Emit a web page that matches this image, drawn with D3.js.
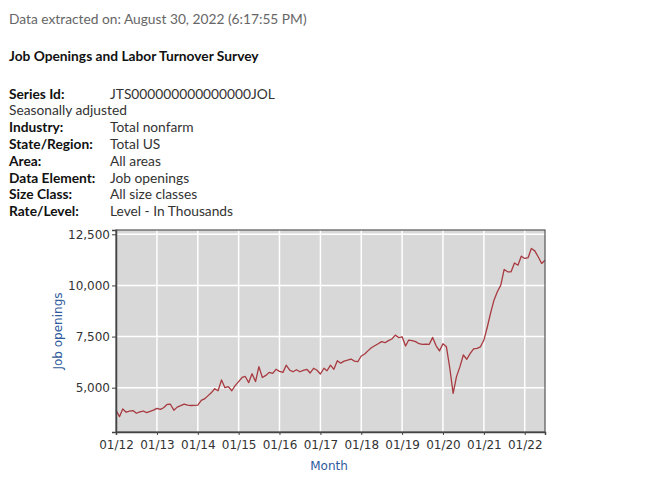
<!DOCTYPE html>
<html><head><meta charset="utf-8">
<script src="https://cdn.jsdelivr.net/npm/d3@7"></script>
<style>
html,body{margin:0;padding:0;background:#fff;}
svg{display:block;}
</style></head><body>
<svg id="c" width="670" height="493"></svg>
<script>
const extracted = "Data extracted on: August 30, 2022 (6:17:55 PM)";
const title = "Job Openings and Labor Turnover Survey";
const metaLabels = ["Series Id:", null, "Industry:", "State/Region:", "Area:", "Data Element:", "Size Class:", "Rate/Level:"];
const metaValues = ["JTS000000000000000JOL", "Seasonally adjusted", "Total nonfarm", "Total US", "All areas", "Job openings", "All size classes", "Level - In Thousands"];
const startMonth = "2012-01";
const values = [
  3911, 3584, 3960, 3800, 3850, 3880, 3750, 3820, 3860, 3780, 3840, 3900,
  3990, 3940, 4020, 4180, 4190, 3900, 4050, 4120, 4200, 4150, 4130, 4140,
  4150, 4380, 4450, 4600, 4750, 4950, 4850, 5380, 5000, 5050, 4850, 5100,
  5300, 5500, 5550, 5250, 5680, 5300, 6030, 5500, 5600, 5750, 5700, 5900,
  5800, 5750, 6100, 5860, 5780, 5880, 5780, 5850, 5900, 5720, 5950, 5850,
  5670, 5950, 5830, 6100, 5900, 6320, 6200, 6300, 6350, 6400, 6300, 6270,
  6550, 6650, 6800, 6950, 7050, 7150, 7250, 7200, 7300, 7380, 7570, 7450,
  7490, 7040, 7330, 7300, 7250, 7150, 7120, 7130, 7120, 7460, 7050, 6800,
  7150, 7000, 6000, 4720, 5540, 6030, 6600, 6390, 6680, 6900, 6920, 7000,
  7330, 7980, 8630, 9280, 9690, 10015, 10780, 10665, 10665, 11100, 10990, 11430,
  11320, 11365, 11810, 11690, 11400, 11075, 11235
];
const yTicks = [5000, 7500, 10000, 12500];
const xTickLabels = ["01/12","01/13","01/14","01/15","01/16","01/17","01/18","01/19","01/20","01/21","01/22"];
const yTitle = "Job openings";
const xTitle = "Month";

const svg = d3.select("#c");
const font = "Lato, 'Open Sans', sans-serif";
const fs = 13.75;

svg.append("text").attr("x", 9).attr("y", 24).attr("font-family", font).attr("font-size", fs)
  .attr("fill", "#666").text(extracted);
svg.append("text").attr("x", 9).attr("y", 61).attr("font-family", font).attr("font-size", fs)
  .attr("font-weight", "bold").attr("fill", "#111").text(title);

metaValues.forEach((v, i) => {
  const yy = 98.5 + i * 16.8;
  const lab = metaLabels[i];
  if (lab) {
    svg.append("text").attr("x", 9).attr("y", yy).attr("font-family", font).attr("font-size", fs)
      .attr("font-weight", "bold").attr("fill", "#111").text(lab);
    svg.append("text").attr("x", 110).attr("y", yy).attr("font-family", font).attr("font-size", fs)
      .attr("fill", "#333").text(v);
  } else {
    svg.append("text").attr("x", 9).attr("y", yy).attr("font-family", font).attr("font-size", fs)
      .attr("fill", "#333").text(v);
  }
});

const pLeft = 116, pRight = 545, pTop = 230, pBottom = 432;
const parse = d3.timeParse("%Y-%m");
const t0 = parse(startMonth);
const data = values.map((v, i) => ({date: d3.timeMonth.offset(t0, i), v}));
const x = d3.scaleTime().domain([data[0].date, data[data.length-1].date]).range([pLeft, pRight]);
const pxPer = (387.7 - 234.3) / 7500;
const y = d3.scaleLinear()
  .domain([5000 - (pBottom - 387.7) / pxPer, 5000 + (387.7 - pTop) / pxPer])
  .range([pBottom, pTop]);

svg.append("rect").attr("x", pLeft).attr("y", pTop).attr("width", pRight-pLeft).attr("height", pBottom-pTop)
  .attr("fill", "#d8d8d8");

const xTickDates = xTickLabels.map(s => d3.timeParse("%m/%y")(s));
const g = svg.append("g");
g.selectAll("line.vx").data(xTickDates).join("line")
  .attr("x1", d => x(d)).attr("x2", d => x(d)).attr("y1", pTop).attr("y2", pBottom)
  .attr("stroke", "#fff").attr("stroke-width", 1.5);
g.selectAll("line.hy").data(yTicks).join("line")
  .attr("x1", pLeft).attr("x2", pRight).attr("y1", d => y(d)).attr("y2", d => y(d))
  .attr("stroke", "#fff").attr("stroke-width", 1.5);

svg.append("path").datum(data)
  .attr("d", d3.line().x(d => x(d.date)).y(d => y(d.v)))
  .attr("fill", "none").attr("stroke", "#a83a40").attr("stroke-width", 1.3)
  .attr("stroke-linejoin", "round");

svg.append("rect").attr("x", pLeft).attr("y", pTop).attr("width", pRight-pLeft).attr("height", pBottom-pTop)
  .attr("fill", "none").attr("stroke", "#555").attr("stroke-width", 1.2);

const yAxis = d3.axisLeft(y).tickValues(yTicks).tickFormat(d3.format(",")).tickSize(4).tickPadding(2);
const ya = svg.append("g").attr("transform", `translate(${pLeft},0)`).call(yAxis);
ya.select(".domain").attr("stroke", "#444").attr("stroke-width", 1.5);
ya.selectAll(".tick line").attr("stroke", "#444");
ya.selectAll("text").attr("font-family", "'DejaVu Sans', sans-serif").attr("font-size", 12).attr("fill", "#333");

const xAxis = d3.axisBottom(x).tickValues(xTickDates).tickFormat((d, i) => xTickLabels[i]).tickSize(3).tickPadding(5);
const xa = svg.append("g").attr("transform", `translate(0,${pBottom})`).call(xAxis);
xa.select(".domain").attr("stroke", "#444").attr("stroke-width", 1.5);
xa.selectAll(".tick line").attr("stroke", "#444");
xa.selectAll("text").attr("font-family", "'DejaVu Sans', sans-serif").attr("font-size", 12).attr("fill", "#333");

svg.append("text").attr("transform", `translate(62,${(pTop+pBottom)/2}) rotate(-90)`)
  .attr("text-anchor", "middle").attr("font-family", "'DejaVu Sans', sans-serif").attr("font-size", 12)
  .attr("fill", "#2f5a9e").text(yTitle);
svg.append("text").attr("x", 329).attr("y", 470).attr("text-anchor", "middle")
  .attr("font-family", "'DejaVu Sans', sans-serif").attr("font-size", 12)
  .attr("fill", "#2f5a9e").text(xTitle);
</script>
</body></html>
